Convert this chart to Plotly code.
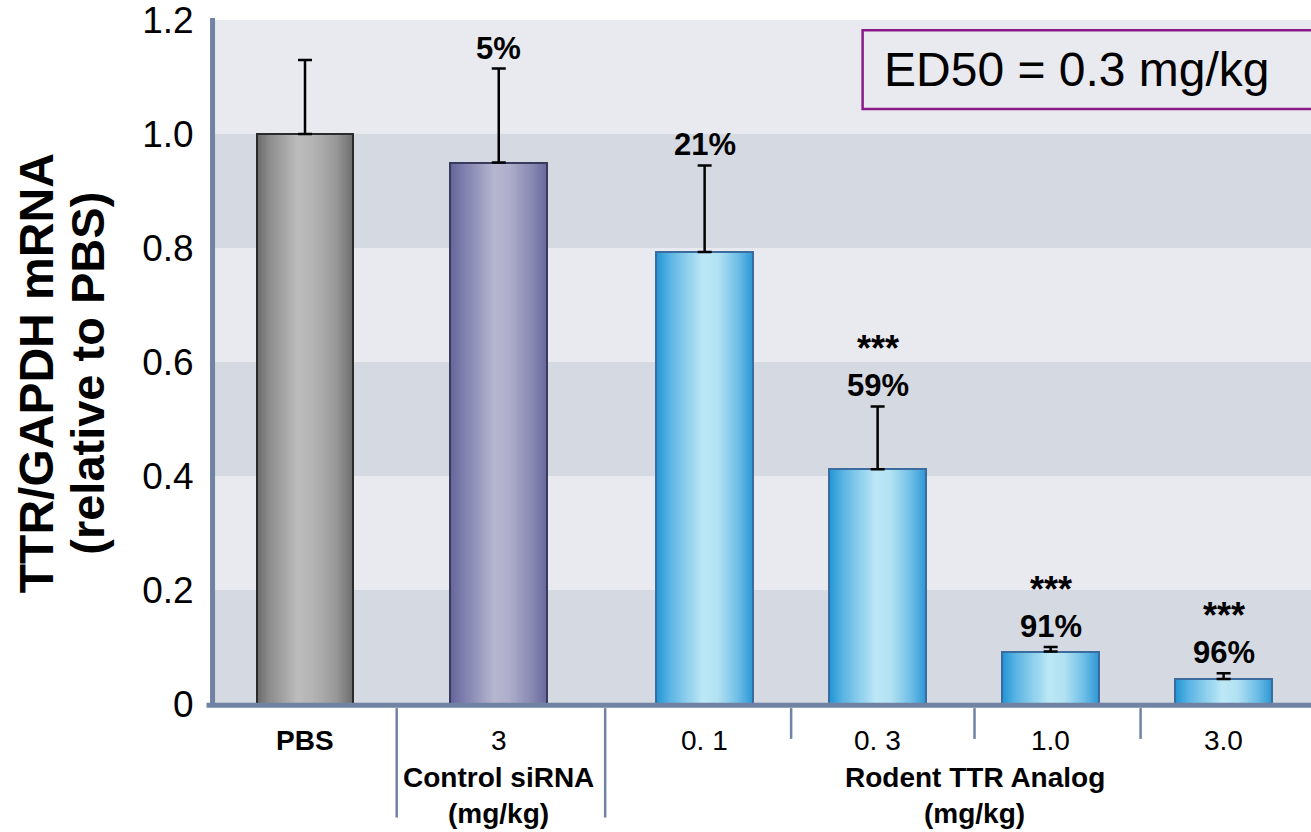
import plotly.graph_objects as go

# ---- data -------------------------------------------------------------
dose_labels = ["PBS", "3", "0. 1", "0. 3", "1.0", "3.0"]
groups = ["pbs", "control", "rodent", "rodent", "rodent", "rodent"]
ttr_ratio = [1.00, 0.95, 0.793, 0.412, 0.092, 0.044]      # TTR/GAPDH relative to PBS
ttr_sem = [0.13, 0.165, 0.152, 0.11, 0.008, 0.010]         # upper error bar
significance = ["", "", "", "***", "***", "***"]
y_ticks = [0, 0.2, 0.4, 0.6, 0.8, 1.0, 1.2]
y_tick_text = ["0", "0.2", "0.4", "0.6", "0.8", "1.0", "1.2"]

FONT = "Liberation Sans, Arial, sans-serif"

# ---- layout helpers -----------------------------------------------------
# spacing between consecutive bars (in bar-slot units)
slot_steps = [1.12, 1.19, 1.0, 1.0, 1.0]
xpos = [0.0]
for s in slot_steps:
    xpos.append(xpos[-1] + s)
BAR_W = 0.56

# horizontal colour profiles (fraction across bar, colour)
profiles = {
    "pbs": [(0, "#6a6a6a"), (0.12, "#8a8a8a"), (0.42, "#bcbcbc"), (0.58, "#b4b4b4"),
            (0.82, "#999999"), (1, "#6e6e6e")],
    "control": [(0, "#64649a"), (0.14, "#7e7eae"), (0.45, "#b6b6d0"), (0.6, "#afafcb"),
                (0.85, "#8787b2"), (1, "#68689c")],
    "rodent": [(0, "#1f95d6"), (0.14, "#58b3e2"), (0.48, "#bde8f6"), (0.64, "#b1e1f3"),
               (0.85, "#6bbde6"), (1, "#2c97d4")],
}
outline = {"pbs": "#2b2b2b", "control": "#3a3a5c", "rodent": "#3c6c9e"}


def hex_rgb(h):
    h = h.lstrip("#")
    return [int(h[i:i + 2], 16) for i in (0, 2, 4)]


def sample(profile, t):
    for (t0, c0), (t1, c1) in zip(profile, profile[1:]):
        if t0 <= t <= t1:
            f = 0 if t1 == t0 else (t - t0) / (t1 - t0)
            a, b = hex_rgb(c0), hex_rgb(c1)
            return "rgb(%d,%d,%d)" % tuple(round(a[i] + (b[i] - a[i]) * f) for i in range(3))
    return profile[-1][1]


fig = go.Figure()

# gradient fill: successive layers start further right and run to the right edge
N = 48
for i in range(N):
    t = (i + 0.5) / N
    start = -BAR_W / 2 + i * BAR_W / N
    fig.add_trace(go.Bar(
        x=xpos, y=ttr_ratio,
        offset=start, width=BAR_W - i * BAR_W / N,
        marker=dict(color=[sample(profiles[g], t) for g in groups], line=dict(width=0)),
        hoverinfo="skip", showlegend=False,
    ))

# outlines and upper error bars
fig.add_trace(go.Bar(
    x=xpos, y=ttr_ratio, width=BAR_W,
    marker=dict(color="rgba(0,0,0,0)", line=dict(color=[outline[g] for g in groups], width=2)),
    error_y=dict(type="data", array=ttr_sem, arrayminus=[0] * len(ttr_sem), symmetric=False,
                 color="black", thickness=2.5, width=7),
    showlegend=False,
))

shapes = []
# alternating background bands
for lo in y_ticks[0:-1:2]:
    shapes.append(dict(type="rect", xref="paper", yref="y", x0=0, x1=1, y0=lo, y1=lo + 0.2,
                       fillcolor="#d5d9e2", line=dict(width=0), layer="below"))

AXIS_C = "#7083a3"
# axis lines
shapes.append(dict(type="line", xref="paper", yref="paper", x0=0.0005, x1=0.0005, y0=-0.002, y1=1.003,
                   line=dict(color=AXIS_C, width=5)))
shapes.append(dict(type="line", xref="paper", yref="paper", x0=-0.005, x1=1.0, y0=-0.002, y1=-0.002,
                   line=dict(color=AXIS_C, width=5)))

# category separators below the axis
sep_nudge = [-0.03, 0.02, 0.0, 0.06, 0.02]
for k in range(len(xpos) - 1):
    xm = (xpos[k] + xpos[k + 1]) / 2 + sep_nudge[k]
    long_sep = k < 2
    shapes.append(dict(type="line", xref="x", yref="paper", x0=xm, x1=xm, y0=-0.006,
                       y1=-0.166 if long_sep else -0.051,
                       line=dict(color=AXIS_C, width=2.5)))

# ED50 box
shapes.append(dict(type="rect", xref="paper", yref="paper", x0=0.592, x1=1.01, y0=0.870, y1=0.985,
                   fillcolor="#e9eaf0", line=dict(color="#8a1a8a", width=2.5)))

annotations = []
# dose labels
for x, lab in zip(xpos, dose_labels):
    annotations.append(dict(x=x, y=0, xref="x", yref="y", text=("<b>%s</b>" % lab) if lab == "PBS" else lab,
                            showarrow=False, yanchor="middle", yshift=-36,
                            font=dict(family=FONT, size=28, color="black")))

# group labels
ctrl_x = xpos[1]
rod_x = sum(xpos[2:]) / 4 + 0.06
for gx, name in [(ctrl_x, "Control siRNA"), (rod_x, "Rodent TTR Analog")]:
    annotations.append(dict(x=gx, y=0, xref="x", yref="y", text="<b>%s</b>" % name, showarrow=False,
                            yanchor="middle", yshift=-73, font=dict(family=FONT, size=28, color="black")))
    annotations.append(dict(x=gx, y=0, xref="x", yref="y", text="<b>(mg/kg)</b>", showarrow=False,
                            yanchor="middle", yshift=-109, font=dict(family=FONT, size=28, color="black")))

# knockdown percentages (relative to PBS) and significance marks
for k in range(1, len(xpos)):
    top = ttr_ratio[k] + ttr_sem[k]
    pct = "%d%%" % round((1 - ttr_ratio[k]) * 100)
    annotations.append(dict(x=xpos[k], y=top, xref="x", yref="y", text="<b>%s</b>" % pct, showarrow=False,
                            yanchor="bottom", yshift=1, font=dict(family=FONT, size=31, color="black")))
    if significance[k]:
        annotations.append(dict(x=xpos[k], y=top, xref="x", yref="y", text="<b>%s</b>" % significance[k],
                                showarrow=False, yanchor="bottom", yshift=35,
                                font=dict(family=FONT, size=36, color="black")))

# y-axis title, two lines
annotations.append(dict(x=-0.159, y=0.484, xref="paper", yref="paper", text="<b>TTR/GAPDH mRNA</b>",
                        textangle=-90, showarrow=False, xanchor="center", yanchor="middle",
                        font=dict(family=FONT, size=48, color="black")))
annotations.append(dict(x=-0.113, y=0.484, xref="paper", yref="paper", text="<b>(relative to PBS)</b>",
                        textangle=-90, showarrow=False, xanchor="center", yanchor="middle",
                        font=dict(family=FONT, size=47, color="black")))

# ED50 text
annotations.append(dict(x=0.610, y=0.928, xref="paper", yref="paper", text="ED50 = 0.3 mg/kg",
                        showarrow=False, xanchor="left", yanchor="middle",
                        font=dict(family=FONT, size=48, color="black")))

x_left = xpos[0] - 93 / 173
x_right = xpos[0] + 1006 / 173

fig.update_layout(
    width=1311, height=832,
    margin=dict(l=212, r=0, t=18, b=128),
    paper_bgcolor="white", plot_bgcolor="#e9eaf0",
    barmode="overlay", bargap=0,
    showlegend=False,
    shapes=shapes, annotations=annotations,
    font=dict(family=FONT, color="black"),
    xaxis=dict(range=[x_left, x_right], showticklabels=False, showgrid=False, zeroline=False,
               showline=False, ticks="", fixedrange=True),
    yaxis=dict(range=[0, 1.2001], tickvals=y_ticks, ticktext=y_tick_text, showgrid=False, zeroline=False,
               showline=False, ticks="outside", ticklen=0, ticklabelstandoff=10,
               ticklabeloverflow="allow",
               tickfont=dict(family=FONT, size=37, color="black"), fixedrange=True),
)

fig.write_html("out.html")
